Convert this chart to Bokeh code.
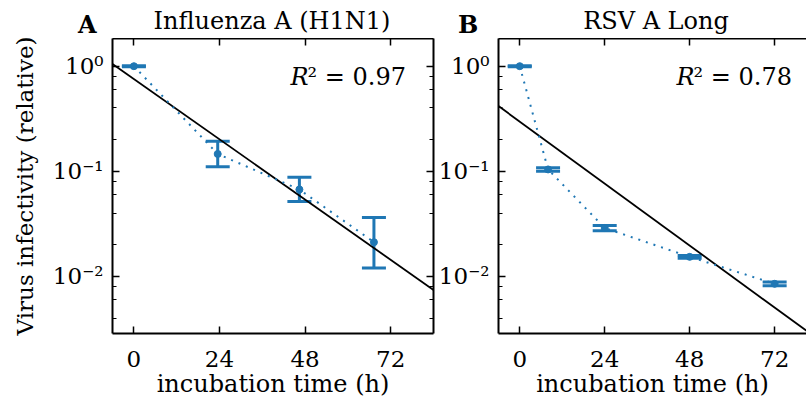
from bokeh.plotting import figure
from bokeh.layouts import row, column
from bokeh.models import (ColumnDataSource, Whisker, TeeHead, LogAxis, LinearAxis,
                          FixedTicker, LogTicker, CustomJSTickFormatter, Label, Range1d, Div)
from bokeh.embed import file_html
from bokeh.resources import INLINE

# ---------------- data ----------------
a_time = [0, 23.5, 46.4, 67.3]
a_value = [1.0, 0.146, 0.067, 0.0211]
a_lower = [0.99, 0.110, 0.0515, 0.0120]
a_upper = [1.01, 0.193, 0.0877, 0.0362]
a_fit_time = [-6, 84]
a_fit_value = [1.05, 0.0074]
a_r2 = "0.97"

b_time = [0, 8, 24, 48, 72]
b_value = [1.0, 0.104, 0.0288, 0.0153, 0.00847]
b_lower = [0.99, 0.100, 0.0271, 0.0148, 0.00813]
b_upper = [1.01, 0.108, 0.0305, 0.0158, 0.00881]
b_fit_time = [-6, 84]
b_fit_value = [0.417, 0.00255]
b_r2 = "0.78"

x_ticks = [0, 24, 48, 72]
titles = ["Influenza A (H1N1)", "RSV A Long"]
letters = ["A", "B"]
x_label = "incubation time (h)"
y_label = "Virus infectivity (relative)"

BLUE = "#1f77b4"
FONT = "DejaVu Serif"
FS_TICK = "23px"
FS_LAB = "24px"

sup_fmt = CustomJSTickFormatter(code="""
const s = {"-":"\u207b","0":"\u2070","1":"\u00b9","2":"\u00b2","3":"\u00b3","4":"\u2074","5":"\u2075","6":"\u2076","7":"\u2077","8":"\u2078","9":"\u2079"};
const e = Math.round(Math.log10(tick));
return "10" + String(e).split("").map(c => s[c]).join("");
""")
blank_fmt = CustomJSTickFormatter(code="return '';")


def style_axis(ax, labels=True):
    ax.axis_line_width = 2
    ax.axis_line_color = "black"
    ax.major_tick_in = 7
    ax.major_tick_out = 0
    ax.minor_tick_in = 4
    ax.minor_tick_out = 0
    ax.major_tick_line_width = 1.5
    ax.minor_tick_line_width = 1
    ax.major_tick_line_color = "black"
    ax.minor_tick_line_color = "black"
    ax.major_label_text_font = FONT
    ax.major_label_text_color = "black"
    if labels:
        ax.major_label_text_font_size = FS_TICK
    else:
        ax.major_label_text_font_size = "0px"
        ax.major_label_standoff = 0


def panel(idx, t, v, lo, hi, fit_t, fit_v, r2, width, border_left, border_right,
          x_end, right_axis, ylab):
    p = figure(width=width, height=364, x_range=Range1d(-6, x_end),
               y_range=Range1d(0.00285, 1.835), y_axis_type="log",
               output_backend="svg", toolbar_location=None, title=None,
               min_border_left=border_left, min_border_right=border_right,
               min_border_top=0, min_border_bottom=69)
    p.outline_line_color = None
    p.grid.visible = False
    p.background_fill_color = "white"
    p.border_fill_color = "white"

    # bottom axis
    xa = p.xaxis[0]
    xa.ticker = FixedTicker(ticks=x_ticks, minor_ticks=[])
    style_axis(xa)
    xa.major_label_standoff = 17
    xa.axis_label = x_label
    xa.axis_label_text_font = FONT
    xa.axis_label_text_font_size = FS_LAB
    xa.axis_label_text_font_style = "normal"
    xa.axis_label_text_color = "black"
    xa.axis_label_standoff = 0

    # left axis
    ya = p.yaxis[0]
    ya.ticker = LogTicker()
    ya.formatter = sup_fmt
    style_axis(ya)
    ya.major_label_standoff = 9
    if ylab:
        ya.axis_label = y_label
        ya.axis_label_text_font = FONT
        ya.axis_label_text_font_size = "23px"
        ya.axis_label_text_font_style = "normal"
        ya.axis_label_text_color = "black"
        ya.axis_label_standoff = 12

    top = LinearAxis(ticker=FixedTicker(ticks=x_ticks, minor_ticks=[]), formatter=blank_fmt)
    style_axis(top, labels=False)
    p.add_layout(top, "above")
    if right_axis:
        ra = LogAxis(ticker=LogTicker(), formatter=blank_fmt)
        style_axis(ra, labels=False)
        p.add_layout(ra, "right")

    # fit line
    p.line(fit_t, fit_v, line_color="black", line_width=1.8)
    # dotted connection
    p.line(t, v, line_color=BLUE, line_width=2, line_dash="2 6")
    # error bars
    src = ColumnDataSource(dict(t=t, v=v, lo=lo, hi=hi))
    w = Whisker(source=src, base="t", lower="lo", upper="hi", dimension="height",
                line_color=BLUE, line_width=3,
                upper_head=TeeHead(size=24, line_color=BLUE, line_width=3),
                lower_head=TeeHead(size=24, line_color=BLUE, line_width=3))
    p.add_layout(w)
    p.scatter("t", "v", source=src, size=7, color=BLUE)

    fh = 295
    rx = 178
    p.add_layout(Label(x=rx, y=fh - 38, x_units="screen", y_units="screen",
                       text="R", text_font=FONT, text_font_size=FS_LAB,
                       text_font_style="italic", text_align="left",
                       text_baseline="alphabetic", text_color="black"))
    p.add_layout(Label(x=rx + 17, y=fh - 38, x_units="screen", y_units="screen",
                       text="\u00b2 = " + r2, text_font=FONT, text_font_size=FS_LAB,
                       text_align="left", text_baseline="alphabetic",
                       text_color="black"))
    return p


# header strip with the panel titles and letters
def span(left, top, txt, size, weight, center=False):
    tr = "transform:translateX(-50%);" if center else ""
    return (f'<span style="position:absolute;left:{left}px;top:{top}px;{tr}'
            f"font-family:'{FONT}';font-size:{size}px;font-weight:{weight};"
            f'line-height:{size}px;white-space:nowrap;color:#000;">{txt}</span>')


title_centers = [272, 656]
letter_lefts = [78, 458]
parts = []
for i in range(2):
    parts.append(span(title_centers[i], 9, titles[i], 24, "normal", center=True))
    parts.append(span(letter_lefts[i], 13, letters[i], 24, "bold"))
head = Div(text='<div style="position:relative;width:806px;height:38px;margin:0;padding:0;">'
           + "".join(parts) + "</div>",
           width=806, height=38, margin=0)

pa = panel(0, a_time, a_value, a_lower, a_upper, a_fit_time, a_fit_value, a_r2,
           width=435, border_left=112, border_right=2, x_end=84,
           right_axis=True, ylab=True)
pb = panel(1, b_time, b_value, b_lower, b_upper, b_fit_time, b_fit_value, b_r2,
           width=371, border_left=61, border_right=0, x_end=81,
           right_axis=False, ylab=False)

layout = column(head, row(pa, pb, spacing=0), spacing=0)
open("out.html", "w").write(file_html(layout, INLINE))
